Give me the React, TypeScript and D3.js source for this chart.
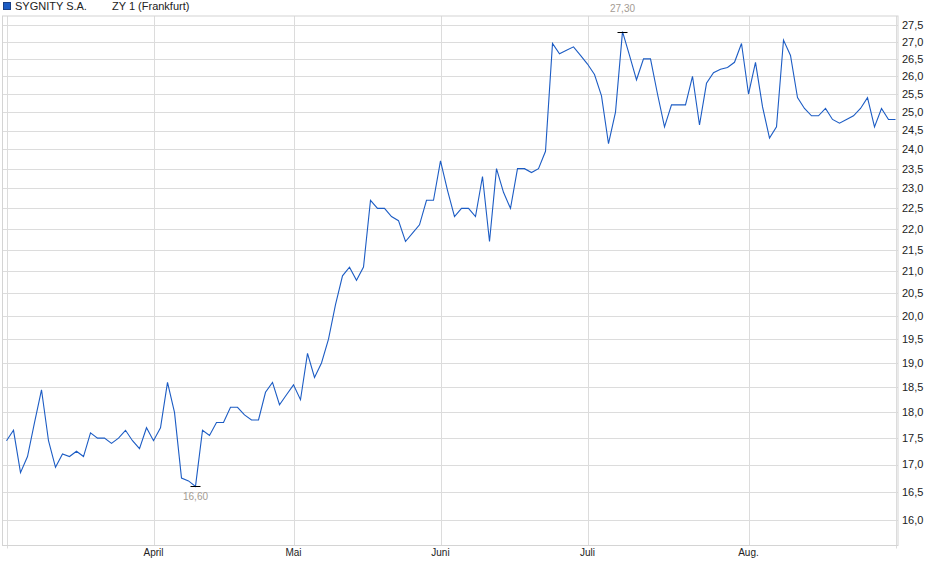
import React, { useEffect, useRef } from 'react';
import * as d3 from 'd3';

// daily closing prices, Frankfurt
const prices = [
  17.45, 17.65, 16.85, 17.15, 17.8, 18.45, 17.45, 16.95, 17.2, 17.15,
  17.25, 17.15, 17.6, 17.5, 17.5, 17.4, 17.5, 17.65, 17.45, 17.3,
  17.7, 17.45, 17.7, 18.6, 18.0, 16.75, 16.7, 16.6, 17.65, 17.55,
  17.8, 17.8, 18.1, 18.1, 17.95, 17.85, 17.85, 18.4, 18.6, 18.15,
  18.35, 18.55, 18.25, 19.2, 18.7, 19.0, 19.5, 20.25, 20.9, 21.1,
  20.8, 21.1, 22.7, 22.5, 22.5, 22.3, 22.2, 21.7, 21.9, 22.1,
  22.7, 22.7, 23.7, 22.95, 22.3, 22.5, 22.5, 22.3, 23.3, 21.7,
  23.5, 22.9, 22.5, 23.5, 23.5, 23.4, 23.5, 23.95, 26.95, 26.65,
  26.75, 26.85, 26.6, 26.35, 26.05, 25.45, 24.15, 25.0, 27.3, 26.6,
  25.9, 26.5, 26.5, 25.5, 24.6, 25.2, 25.2, 25.2, 26.0, 24.65,
  25.8, 26.1, 26.2, 26.25, 26.4, 26.95, 25.5, 26.4, 25.15, 24.3,
  24.6, 27.05, 26.6, 25.4, 25.1, 24.9, 24.9, 25.1, 24.8, 24.7,
  24.8, 24.9, 25.1, 25.4, 24.6, 25.1, 24.8, 24.8,
];

const monthLabels = ['April', 'Mai', 'Juni', 'Juli', 'Aug.'];
const monthStarts = [21, 41, 62, 83, 106];

const yTicks = [
  16.0, 16.5, 17.0, 17.5, 18.0, 18.5, 19.0, 19.5, 20.0, 20.5, 21.0, 21.5,
  22.0, 22.5, 23.0, 23.5, 24.0, 24.5, 25.0, 25.5, 26.0, 26.5, 27.0, 27.5,
];

const seriesName = 'SYGNITY S.A.';
const seriesInfo = 'ZY 1 (Frankfurt)';

const fmt = (v: number, digits: number) => v.toFixed(digits).replace('.', ',');

const PriceChart: React.FC = () => {
  const svgRef = useRef<SVGSVGElement | null>(null);

  useEffect(() => {
    if (!svgRef.current) return;
    const width = 940;
    const height = 579;
    const frame = { left: 2.5, right: 898, top: 16, bottom: 545.5 };

    const svg = d3.select(svgRef.current);
    svg.selectAll('*').remove();
    svg.attr('width', width).attr('height', height);

    const x = d3.scaleLinear()
      .domain([0, prices.length - 1])
      .range([6.5, 895.5]);

    const y = d3.scaleLog()
      .domain([16, 27.5])
      .range([520, 25]);

    const font = "'Liberation Sans', Arial, sans-serif";

    // grid
    const grid = svg.append('g').attr('stroke', '#dcdcdc').attr('stroke-width', 1);
    grid.selectAll('line.h')
      .data(yTicks)
      .enter().append('line')
      .attr('class', 'h')
      .attr('x1', frame.left)
      .attr('x2', frame.right)
      .attr('y1', d => Math.round(y(d)) + 0.5)
      .attr('y2', d => Math.round(y(d)) + 0.5);

    const vLines = [0, ...monthStarts, prices.length - 1];
    grid.selectAll('line.v')
      .data(vLines)
      .enter().append('line')
      .attr('class', 'v')
      .attr('x1', d => Math.round(x(d)) + 0.5)
      .attr('x2', d => Math.round(x(d)) + 0.5)
      .attr('y1', frame.top)
      .attr('y2', frame.bottom);

    // small ticks below the frame
    grid.selectAll('line.t')
      .data([0, prices.length - 1])
      .enter().append('line')
      .attr('class', 't')
      .attr('x1', d => Math.round(x(d)) + 0.5)
      .attr('x2', d => Math.round(x(d)) + 0.5)
      .attr('y1', frame.bottom)
      .attr('y2', frame.bottom + 3);

    // frame
    svg.append('rect')
      .attr('x', frame.left)
      .attr('y', frame.top)
      .attr('width', frame.right - frame.left)
      .attr('height', frame.bottom - frame.top)
      .attr('fill', 'none')
      .attr('stroke', '#d4d4d4');

    // y labels (right)
    svg.append('g')
      .selectAll('text')
      .data(yTicks)
      .enter().append('text')
      .attr('x', 902)
      .attr('y', d => y(d))
      .attr('dy', '0.35em')
      .style('font-family', font)
      .style('font-size', '11px')
      .attr('fill', '#222')
      .text(d => fmt(d, 1));

    // month labels
    svg.append('g')
      .selectAll('text')
      .data(monthLabels)
      .enter().append('text')
      .attr('x', (d, i) => x(monthStarts[i]))
      .attr('y', 556)
      .attr('text-anchor', 'middle')
      .style('font-family', font)
      .style('font-size', '10px')
      .attr('fill', '#222')
      .text(d => d);

    // price line
    const line = d3.line<number>()
      .x((d, i) => x(i))
      .y(d => y(d));

    svg.append('path')
      .datum(prices)
      .attr('d', line)
      .attr('fill', 'none')
      .attr('stroke', '#1c5cc4')
      .attr('stroke-width', 1.1);

    // high / low markers
    const hiIdx = d3.maxIndex(prices);
    const loIdx = d3.minIndex(prices);
    const marks = [
      { i: hiIdx, v: prices[hiIdx], dy: -20 },
      { i: loIdx, v: prices[loIdx], dy: 14 },
    ];
    svg.append('g')
      .selectAll('line')
      .data(marks)
      .enter().append('line')
      .attr('x1', d => x(d.i) - 5)
      .attr('x2', d => x(d.i) + 5)
      .attr('y1', d => Math.round(y(d.v)) + 0.5)
      .attr('y2', d => Math.round(y(d.v)) + 0.5)
      .attr('stroke', '#000')
      .attr('stroke-width', 1);
    svg.append('g')
      .selectAll('text')
      .data(marks)
      .enter().append('text')
      .attr('x', d => x(d.i))
      .attr('y', d => y(d.v) + d.dy)
      .attr('text-anchor', 'middle')
      .style('font-family', font)
      .style('font-size', '10px')
      .attr('fill', '#a39b92')
      .text(d => fmt(d.v, 2));

    // legend
    svg.append('rect')
      .attr('x', 3.5)
      .attr('y', 2.5)
      .attr('width', 7)
      .attr('height', 7)
      .attr('fill', '#1c5cc4')
      .attr('stroke', '#1a3f85');
    svg.append('text')
      .attr('x', 15)
      .attr('y', 10)
      .style('font-family', font)
      .style('font-size', '11px')
      .attr('fill', '#222')
      .text(seriesName);
    svg.append('text')
      .attr('x', 112)
      .attr('y', 10)
      .style('font-family', font)
      .style('font-size', '11px')
      .attr('fill', '#222')
      .text(seriesInfo);
  }, []);

  return (
    <div style={{ position: 'absolute', left: 0, top: 0, width: 940, height: 579, background: '#fff' }}>
      <svg ref={svgRef} style={{ display: 'block' }} />
    </div>
  );
};

export default function App() {
  return <PriceChart />;
}
